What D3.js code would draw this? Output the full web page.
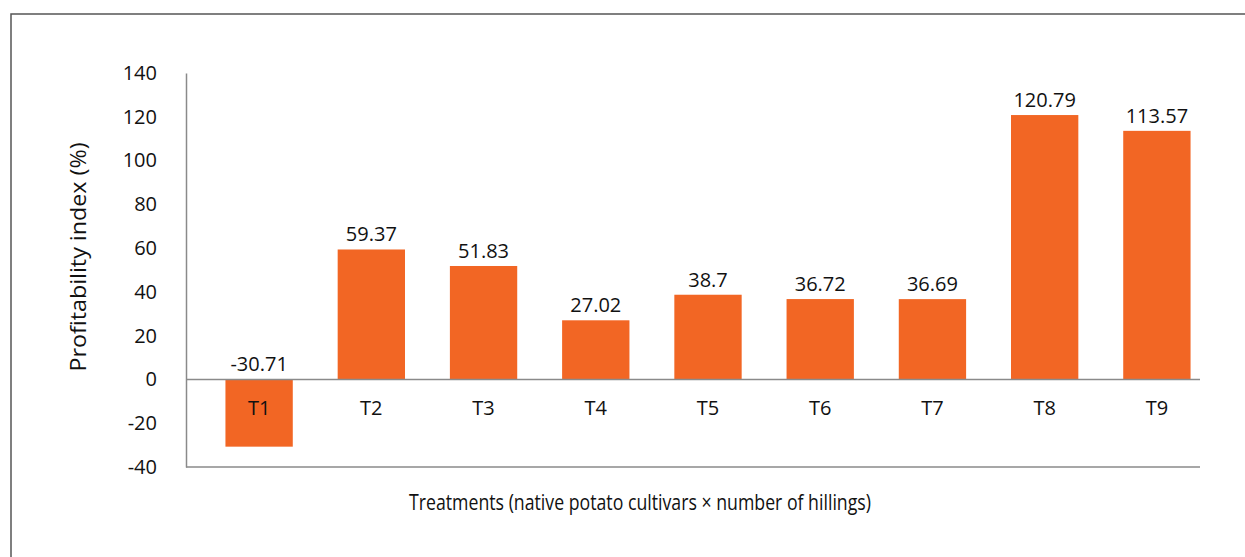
<!DOCTYPE html>
<html>
<head>
<meta charset="utf-8">
<script src="https://cdn.jsdelivr.net/npm/d3@7"></script>
<style>
  body { margin: 0; background: #fff; }
  text { font-family: "Open Sans", sans-serif; fill: #111; }
</style>
</head>
<body>
<div id="chart"></div>
<script>
// data
var treatments = ["T1", "T2", "T3", "T4", "T5", "T6", "T7", "T8", "T9"];
var profitability = [-30.71, 59.37, 51.83, 27.02, 38.7, 36.72, 36.69, 120.79, 113.57];
var yTicks = [-40, -20, 0, 20, 40, 60, 80, 100, 120, 140];

const W = 1245, H = 557;
const axisLeft = 186, axisRight = 1200;

var svg = d3.select("#chart")
    .append("svg")
    .attr("width", W)
    .attr("height", H);

// outer frame
svg.append("rect")
    .attr("x", 11).attr("y", 14)
    .attr("width", W + 20).attr("height", H + 20)
    .attr("fill", "none")
    .attr("stroke", "#555")
    .attr("stroke-width", 1.5);

var x = d3.scaleBand()
    .domain(treatments)
    .range([203, 1213])
    .paddingInner(0.4)
    .paddingOuter(0.2);

var y = d3.scaleLinear()
    .domain([-40, 140])
    .range([467, 73]);

// bars
svg.selectAll(".bar")
    .data(treatments)
    .enter()
    .append("rect")
    .attr("class", "bar")
    .attr("x", d => x(d))
    .attr("width", x.bandwidth())
    .attr("y", (d, i) => y(Math.max(0, profitability[i])))
    .attr("height", (d, i) => Math.abs(y(profitability[i]) - y(0)))
    .attr("fill", "#f26624");

// y axis (plain hyphen for negatives, like the original)
var yAxis = svg.append("g")
    .attr("transform", `translate(${axisLeft},0)`)
    .call(d3.axisLeft(y).tickValues(yTicks).tickSize(0).tickPadding(29)
        .tickFormat(d => String(d)));
yAxis.select(".domain").attr("stroke", "#8a8a8a").attr("stroke-width", 1.5);
yAxis.selectAll("text")
    .style("font-family", "'Open Sans', sans-serif")
    .style("font-size", "20px")
    .attr("fill", "#111");

// zero line and bottom line
[0, -40].forEach(function (v) {
    svg.append("line")
        .attr("x1", axisLeft).attr("x2", axisRight)
        .attr("y1", y(v)).attr("y2", y(v))
        .attr("stroke", "#8a8a8a")
        .attr("stroke-width", 1.5);
});

// category labels
svg.selectAll(".cat")
    .data(treatments)
    .enter()
    .append("text")
    .attr("class", "cat")
    .attr("x", d => x(d) + x.bandwidth() / 2)
    .attr("y", 415)
    .attr("text-anchor", "middle")
    .style("font-size", "20px")
    .text(d => d);

// value labels
svg.selectAll(".val")
    .data(profitability)
    .enter()
    .append("text")
    .attr("class", "val")
    .attr("x", (d, i) => x(treatments[i]) + x.bandwidth() / 2)
    .attr("y", d => y(Math.max(0, d)) - 8)
    .attr("text-anchor", "middle")
    .style("font-size", "20px")
    .text(d => d);

// axis titles
svg.append("text")
    .attr("x", 640)
    .attr("y", 510)
    .attr("text-anchor", "middle")
    .attr("textLength", 462)
    .attr("lengthAdjust", "spacingAndGlyphs")
    .style("font-size", "21px")
    .text("Treatments (native potato cultivars \u00d7 number of hillings)");

svg.append("text")
    .attr("transform", "translate(86,257) rotate(-90)")
    .attr("text-anchor", "middle")
    .attr("textLength", 229)
    .attr("lengthAdjust", "spacingAndGlyphs")
    .style("font-size", "21px")
    .text("Profitability index (%)");
</script>
</body>
</html>
